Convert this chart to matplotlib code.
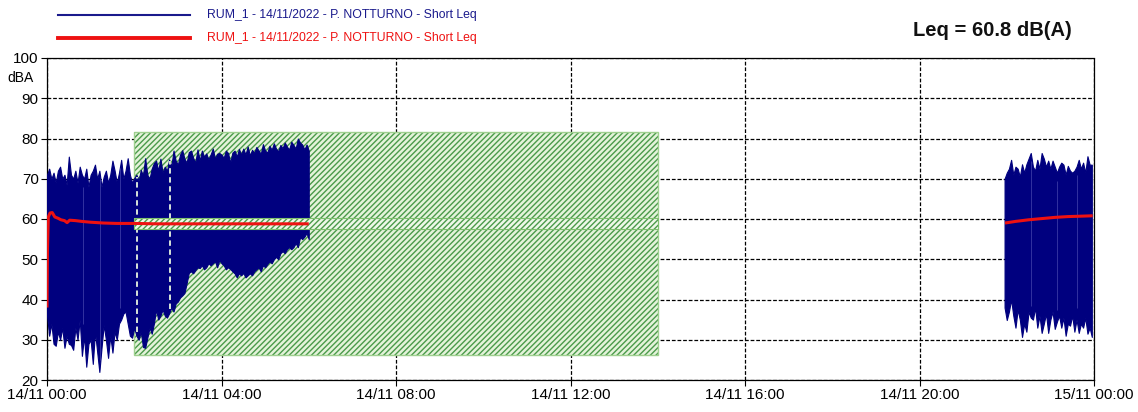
import matplotlib
matplotlib.use('Agg')
import matplotlib.pyplot as plt
from matplotlib.patches import Rectangle
from matplotlib.lines import Line2D
import numpy as np

plt.rcParams['font.family'] = ['Liberation Sans', 'DejaVu Sans']
plt.rcParams['hatch.linewidth'] = 1.0

# ---------------- data ----------------
series_label = "RUM_1 - 14/11/2022 - P. NOTTURNO - Short Leq"
leq_text = "Leq = 60.8 dB(A)"
x_tick_hours = [0, 4, 8, 12, 16, 20, 24]
x_tick_labels = ['14/11 00:00', '14/11 04:00', '14/11 08:00', '14/11 12:00',
                 '14/11 16:00', '14/11 20:00', '15/11 00:00']
y_ticks = [20, 30, 40, 50, 60, 70, 80, 90, 100]

# segment 1 (00:00 - 06:00), sampled every 3 minutes: max / min envelope (dBA)
t1 = np.round(np.arange(0.0, 6.001, 0.05), 2)
up1 = [71, 72.5, 70, 71.5, 69, 72, 73, 70, 71, 68.5,
       75.5, 71, 70, 72, 69, 73, 71, 70, 72.5, 68,
       71, 72, 73.5, 70, 72, 68, 70.5, 72, 69, 71,
       74.5, 72, 69, 71.5, 74.7, 70, 72, 75.1, 71, 69,
       70.2, 71, 69.5, 72.2, 70.8, 75.1, 71, 70, 72.5, 73.9,
       74.5, 72, 75, 71.5, 73, 72, 74.8, 73, 77, 74.5,
       73.5, 76, 77.1, 75, 74, 76.6, 77, 75.2, 74, 77.3,
       74.5, 77, 75.5, 76.3, 74.8, 76, 77.5, 75, 76.2, 76.4,
       76, 75.2, 77, 76.4, 74, 76.5, 77, 75.5, 77.4, 76,
       77.5, 76, 78, 75.8, 77.2, 76.4, 77.9, 77, 76.2, 78.6,
       77, 76.5, 78.2, 77.2, 78.8, 77.5, 76.8, 78.4, 77.6, 79.0,
       78, 77.2, 79.2, 78.4, 77.5, 80, 79, 78.5, 77.3, 78.5,
       77]
lo1 = [36, 31, 34, 29, 28.5, 32, 30, 33, 28, 31,
       29, 28.7, 27.5, 33, 30, 35, 26, 31, 23.3, 29,
       30, 24, 32, 27, 22, 28, 33.7, 30, 25.5, 31,
       26.8, 32, 30, 34, 35, 36.5, 37, 34, 31, 30.5,
       33, 31, 30, 32, 28.2, 28, 30.5, 33, 31.5, 34,
       37.5, 35, 36, 37.5, 36, 35.5, 36.6, 38, 37, 39,
       39.5, 40.5, 41, 41.6, 44, 46.6, 47, 46.5, 47.3, 48,
       47.8, 48.5, 47.5, 48, 49, 48.5, 49, 49.5, 48, 49.8,
       49, 48.5, 47.5, 48, 47.6, 47, 46.5, 45.5, 46.5, 46,
       46.6, 45.5, 46, 46.5, 46, 47, 47.5, 48, 47, 48.5,
       48, 48.8, 49.5, 49, 50, 50.6, 50, 51.5, 52, 51.5,
       52.5, 53, 52.5, 53, 54, 53, 55.5, 55, 55.6, 56.5,
       55]

# segment 2 (21:57 - 24:00)
t2 = np.round(np.arange(21.95, 23.951, 0.05), 2)
up2 = [70, 71.5, 72.5, 74.7, 71, 73, 72.5, 70.5, 73.6, 71.5,
       73.6, 75, 76.4, 73, 72, 74.7, 72.5, 76.4, 75, 73,
       74.5, 72.5, 74.5, 73, 71.5, 73, 74, 73.5, 71, 73.2,
       72, 71.5, 72, 73, 74.7, 72.5, 74, 71.5, 75.6, 73.5,
       73.5]
lo2 = [38, 34.9, 37, 40, 36, 33, 37.5, 35, 30.7, 34,
       32, 37, 35.5, 35, 38, 33, 36, 31.7, 34, 36.5,
       31.7, 35, 37, 32.7, 34.5, 36, 33, 35.5, 31, 34,
       33.5, 36, 32, 35, 31.7, 34, 33, 35.5, 31.5, 33,
       30.7]

# running Leq (red)
leq_t1 = [0.0, 0.01, 0.03, 0.07, 0.12, 0.18, 0.25, 0.32, 0.40, 0.46, 0.52,
          0.65, 0.8, 1.0, 1.3, 1.6, 2.0, 2.5, 3.0, 4.0, 5.0, 6.0]
leq_v1 = [38, 52, 60.5, 61.5, 61.6, 60.5, 60.2, 59.8, 59.6, 59.1, 59.7,
          59.6, 59.4, 59.2, 59.0, 58.9, 58.9, 58.8, 58.8, 58.8, 58.8, 58.8]
leq_t2 = [21.96, 22.2, 22.5, 22.8, 23.1, 23.4, 23.7, 23.97]
leq_v2 = [59.0, 59.4, 59.8, 60.1, 60.4, 60.6, 60.7, 60.8]

# masked (hatched) period
mask_start, mask_end = 2.0, 14.0
mask_low, mask_high = 26.3, 81.7
band_low, band_high = 57.5, 60.2
gap_hours = [2.06, 2.82]
streak_hours = [0.83, 1.22, 1.68, 22.55, 23.15, 23.6]

# ---------------- plot ----------------
navy = '#00007f'
red = '#ee1111'
hatch_green = '#4a9a4a'

fig = plt.figure(figsize=(11.38, 4.12), dpi=100)
ax = fig.add_axes([47/1138, 32/412, 1047/1138, 322/412])
ax.set_xlim(0, 24)
ax.set_ylim(20, 100)

# grid
ax.set_xticks(x_tick_hours)
ax.set_xticklabels(x_tick_labels)
ax.set_yticks(y_ticks)
ax.grid(True, color='black', linestyle=(0, (3, 1.5)), linewidth=0.9, zorder=1)
ax.set_axisbelow(True)
for s in ax.spines.values():
    s.set_linestyle((0, (2, 1)))
    s.set_linewidth(0.9)
    s.set_color('black')
ax.tick_params(axis='both', direction='out', length=4, width=0.8,
               labelsize=11, colors='black', pad=2)

# hatched mask
w = mask_end - mask_start
ax.add_patch(Rectangle((mask_start, mask_low), w, mask_high - mask_low,
                       facecolor='#e4f3da', edgecolor='none', zorder=2))
ax.add_patch(Rectangle((mask_start, mask_low), w, mask_high - mask_low,
                       facecolor='none', edgecolor=hatch_green, hatch='//////',
                       linewidth=0, zorder=2.1))
ax.add_patch(Rectangle((mask_start, mask_low), w, mask_high - mask_low,
                       facecolor='none', edgecolor='#9fd08f', linewidth=1,
                       zorder=2.2))

# data envelopes
ax.fill_between(t1, lo1, up1, color=navy, linewidth=0.8, zorder=3)
ax.fill_between(t2, lo2, up2, color=navy, linewidth=0.8, zorder=3)

# faint streaks in data
for h in streak_hours:
    if h < 10:
        i = int(np.argmin(np.abs(t1 - h)))
        lo, hi = lo1[i], up1[i]
    else:
        i = int(np.argmin(np.abs(t2 - h)))
        lo, hi = lo2[i], up2[i]
    ax.vlines(h, lo + 3, hi - 2, colors='#3a3aa6', linewidth=0.6, zorder=3.2)

# gaps in data
for g in gap_hours:
    i = int(np.argmin(np.abs(t1 - g)))
    ax.vlines(g, lo1[i] + 1, up1[i] - 0.5, colors='#e8f5e0',
              linestyles=(0, (3, 2)), linewidth=1.3, zorder=3.5)

# band around Leq line inside mask
ax.add_patch(Rectangle((mask_start, band_low), w, band_high - band_low,
                       facecolor='#eef8e8', edgecolor='none', zorder=4))
ax.add_patch(Rectangle((mask_start, band_low), w, band_high - band_low,
                       facecolor='none', edgecolor=hatch_green, hatch='//////',
                       linewidth=0, zorder=4.1))
ax.add_patch(Rectangle((mask_start, band_low), w, band_high - band_low,
                       facecolor='none', edgecolor='#7fbf6f', linewidth=0.8,
                       zorder=4.2))

# running Leq
ax.plot(leq_t1, leq_v1, color=red, linewidth=2.2, zorder=5, solid_capstyle='butt')
ax.plot(leq_t2, leq_v2, color=red, linewidth=2.2, zorder=5, solid_capstyle='butt')

# dBA label
fig.text(20/1138, 1 - 78/412, 'dBA', ha='center', va='center', fontsize=10)

# legend (manual)
fig.add_artist(Line2D([58/1138, 190/1138], [1 - 15/412, 1 - 15/412],
                      color='#1a1a8c', linewidth=1.5))
fig.add_artist(Line2D([58/1138, 190/1138], [1 - 38/412, 1 - 38/412],
                      color=red, linewidth=2.8))
fig.text(207/1138, 1 - 15/412, series_label, color='#1a1a8c', fontsize=8.8,
         ha='left', va='center')
fig.text(207/1138, 1 - 38/412, series_label, color=red, fontsize=8.8,
         ha='left', va='center')

# Leq text
fig.text(992/1138, 1 - 30/412, leq_text, fontsize=14.5, fontweight='bold',
         ha='center', va='center', color='#111111')

fig.savefig('out.png', dpi=100)
